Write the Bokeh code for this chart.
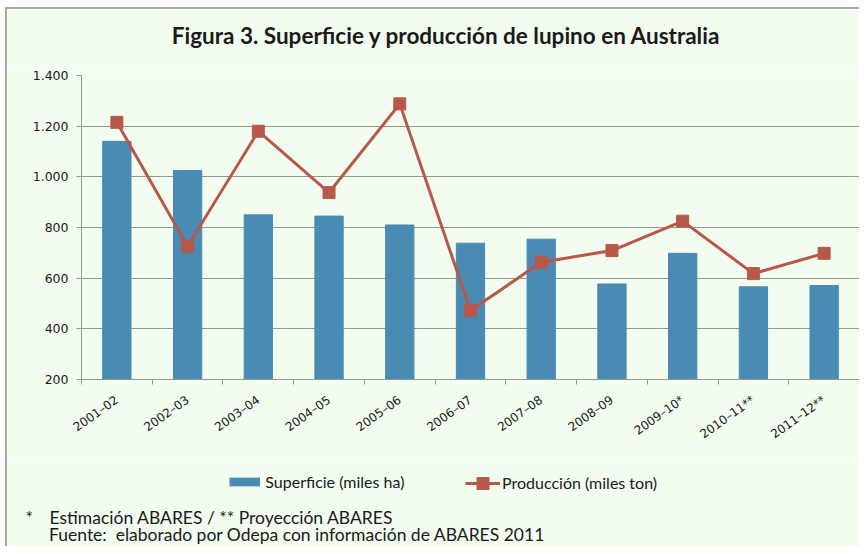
from bokeh.plotting import figure
from bokeh.layouts import column
from bokeh.models import Legend, LegendItem, Label, FixedTicker, Range1d
from bokeh.embed import file_html
from bokeh.resources import INLINE

# ---- data ----
categories = ["2001–02", "2002–03", "2003–04", "2004–05", "2005–06", "2006–07",
              "2007–08", "2008–09", "2009–10*", "2010–11**", "2011–12**"]
superficie = [1140, 1025, 850, 845, 810, 738, 754, 577, 698, 566, 571]
produccion = [1215, 726, 1180, 938, 1288, 472, 663, 709, 825, 618, 698]
y_ticks = [200, 400, 600, 800, 1000, 1200, 1400]
y_tick_labels = ["200", "400", "600", "800", "1.000", "1.200", "1.400"]

title_text = "Figura 3. Superficie y producción de lupino en Australia"
label_sup = "Superficie (miles ha)"
label_prod = "Producción (miles ton)"
note_star = "*"
note1 = "Estimación ABARES / ** Proyección ABARES"
note2 = "Fuente:\u00a0 elaborado por Odepa con información de ABARES 2011"

# ---- styles ----
BG = "#F2FCEF"
BAR = "#4A8BB3"
RED = "#B8584A"
GRID = "#8E9E8D"
EDGE = "#9DB09C"
TXT = "#1A1A1A"
W = 852


def blank(height):
    f = figure(width=W, height=height, x_range=Range1d(0, 1),
               y_range=Range1d(0, 1), x_axis_type=None, y_axis_type=None,
               output_backend="svg", toolbar_location=None,
               min_border=0, frame_align=False)
    f.min_border_left = f.min_border_right = 0
    f.min_border_top = f.min_border_bottom = 0
    f.background_fill_color = BG
    f.border_fill_color = BG
    f.outline_line_color = None
    f.grid.visible = False
    return f


# ---- header with title ----
HH = 56
header = blank(HH)
header.add_layout(Label(x=439, y=30, x_units="screen", y_units="screen",
                        text=title_text, text_align="center",
                        text_baseline="alphabetic", text_font="Lato",
                        text_font_style="bold", text_font_size="22.5px",
                        text_color=TXT))

# ---- main chart ----
x = [i + 0.5 for i in range(len(categories))]

MH = 395
p = figure(width=W, height=MH, x_range=Range1d(0, len(categories)),
           y_range=Range1d(y_ticks[0], y_ticks[-1]),
           output_backend="svg", toolbar_location=None,
           min_border_left=74, min_border_right=0, min_border_top=10,
           min_border_bottom=81)
p.background_fill_color = BG
p.border_fill_color = BG
p.outline_line_color = None

p.vbar(x=x, top=superficie, bottom=0, width=0.4, fill_color=BAR,
       line_color=BAR)
p.line(x, produccion, line_color=RED, line_width=3)
p.scatter(x, produccion, marker="square", size=12, fill_color=RED,
          line_color=RED)

xa = p.xaxis[0]
xa.ticker = FixedTicker(ticks=x, minor_ticks=list(range(len(categories) + 1)))
xa.major_label_overrides = {xi: c for xi, c in zip(x, categories)}
xa.major_tick_in = 0
xa.major_tick_out = 0
xa.minor_tick_in = 0
xa.minor_tick_out = 5
xa.minor_tick_line_color = GRID
xa.axis_line_color = GRID
xa.major_label_orientation = 0.62
xa.major_label_text_font = "DejaVu Sans"
xa.major_label_text_font_size = "12px"
xa.major_label_text_color = TXT
xa.major_label_standoff = 14

ya = p.yaxis[0]
ya.ticker = FixedTicker(ticks=y_ticks)
ya.major_label_overrides = {t: l for t, l in zip(y_ticks, y_tick_labels)}
ya.major_tick_in = 0
ya.major_tick_out = 5
ya.minor_tick_line_color = None
ya.major_tick_line_color = GRID
ya.axis_line_color = GRID
ya.major_label_text_font = "DejaVu Sans"
ya.major_label_text_font_size = "12.5px"
ya.major_label_text_color = TXT
ya.major_label_standoff = 8

p.xgrid.visible = False
p.ygrid.ticker = FixedTicker(ticks=y_ticks)
p.ygrid.grid_line_color = GRID
p.ygrid.grid_line_width = 1.2

# ---- footer: legend + notes ----
FH = 537 - HH - MH
footer = blank(FH)
# legend keys: copies of the series drawn outside the footer's range
proxy_sup = footer.line(x, superficie, line_color=BAR, line_width=8.7,
                        line_cap="butt")
proxy_prod_l = footer.line(x, produccion, line_color=RED, line_width=3)
proxy_prod_m = footer.scatter(x, produccion, marker="square",
                              fill_color=RED, line_color=RED)

common = dict(orientation="horizontal", padding=0, margin=0,
              border_line_color=None, background_fill_alpha=0,
              label_text_font="Lato", label_text_font_size="16px",
              label_text_color=TXT)
leg1 = Legend(items=[LegendItem(label=label_sup, renderers=[proxy_sup])],
              location=(222.3, 55), glyph_width=31, glyph_height=17,
              label_standoff=5, **common)
leg2 = Legend(items=[LegendItem(label=label_prod,
                                renderers=[proxy_prod_l, proxy_prod_m])],
              location=(458, 48.5), glyph_width=35, glyph_height=30,
              label_standoff=2, **common)
footer.add_layout(leg1, "center")
footer.add_layout(leg2, "center")

for txt, xx, yy in [(note_star, 18, 29.5), (note1, 42, 29.5),
                    (note2, 41.5, 12)]:
    footer.add_layout(Label(x=xx, y=yy, x_units="screen", y_units="screen",
                            text=txt, text_font="Lato",
                            text_font_size="17.5px",
                            text_baseline="alphabetic", text_color=TXT))

layout = column(header, p, footer, spacing=0, margin=(7, 0, 0, 5),
                styles={"border-left": f"2px solid {EDGE}",
                        "border-top": f"2px solid {EDGE}"})
open("out.html", "w").write(file_html(layout, INLINE))
